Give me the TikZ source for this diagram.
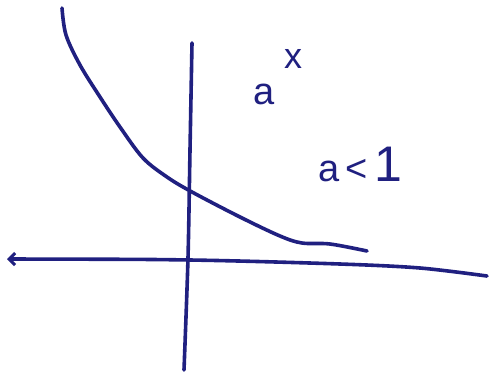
\documentclass[tikz,border=0pt]{standalone}
\usepackage{fontspec}
\setmainfont{Liberation Sans}
\usetikzlibrary{arrows.meta}
\definecolor{ink}{RGB}{32,32,128}
\tikzset{
  inkline/.style={draw=ink, line width=3.6pt, line cap=round, line join=round},
  lbl/.style={text=ink, inner sep=0pt, font=\fontsize{38}{38}\selectfont}
}
\begin{document}
\begin{tikzpicture}[x=1pt,y=-1pt]
\useasboundingbox (0,0) rectangle (490,376);
\fill[white] (0,0) rectangle (490,376);
% axis end points
\coordinate (xl) at (7,259);
\coordinate (xr) at (487,276);
\coordinate (yt) at (192,43);
\coordinate (yb) at (184,370);
% horizontal axis with arrow at left
\draw[inkline, {Straight Barb[length=6pt,width=12pt,line width=3pt]}-] plot[smooth] coordinates {(xl) (190,260) (340,264) (420,268) (xr)};
% vertical axis
\draw[inkline] plot[smooth] coordinates {(yt) (190,150) (188,258) (yb)};
% decreasing exponential curve
\coordinate (cs) at (62,8);
\coordinate (ce) at (367,251);
\draw[inkline] plot[smooth, tension=0.55] coordinates {(cs) (66,35) (80,65) (100,97) (120,127) (143,158) (167,177) (192,192) (240,217) (280,236) (302,243) (330,244) (ce)};
% labels
\node[lbl, anchor=base west] (fa) at (253,104) {a};
\node[lbl, anchor=base west, font=\fontsize{36}{36}\selectfont] (fx) at (284,68) {x};
\node[lbl, anchor=base west] (cond) at (318,181) {a\,<\,\fontsize{50}{50}\selectfont 1};
\end{tikzpicture}
\end{document}
